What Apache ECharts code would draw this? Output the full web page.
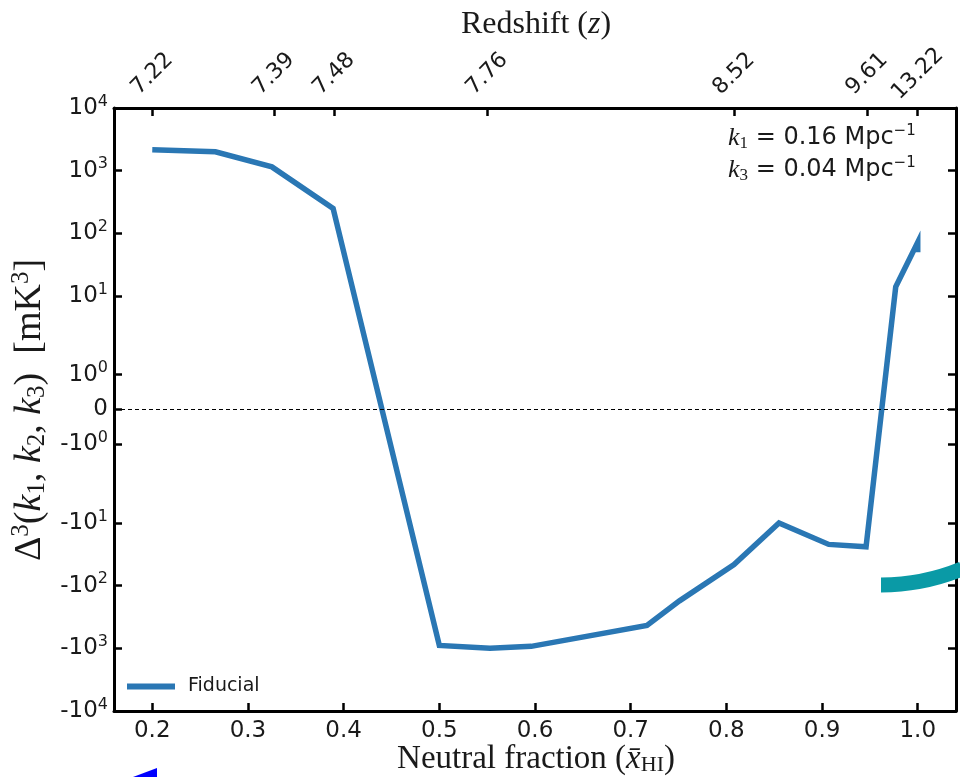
<!DOCTYPE html>
<html>
<head>
<meta charset="utf-8">
<script src="https://cdn.jsdelivr.net/npm/echarts@6/dist/echarts.min.js"></script>
<style>
  html, body { margin: 0; padding: 0; background: #fff; }
  #chart { width: 960px; height: 777px; }
</style>
</head>
<body>
<div id="chart"></div>
<script>
// values
const xHI = [0.2, 0.266, 0.325, 0.389, 0.5, 0.553, 0.596, 0.717, 0.751, 0.808, 0.855, 0.907, 0.946, 0.977, 1.0, 1.0];
const fiducial = [2150, 2000, 1150, 250, -900, -1000, -930, -430, -175, -46, -10, -22, -24, 14, 72, 50];

const xTicks = [0.2, 0.3, 0.4, 0.5, 0.6, 0.7, 0.8, 0.9, 1.0];
const zTicksX = [0.2, 0.327, 0.39, 0.55, 0.808, 0.947, 1.0];
const zLabels = ['7.22', '7.39', '7.48', '7.76', '8.52', '9.61', '13.22'];
const yTickValues = [1e4, 1e3, 100, 10, 1, 0, -1, -10, -100, -1000, -1e4];
const yTickLabels = ['10^4', '10^3', '10^2', '10^1', '10^0', '0', '-10^0', '-10^1', '-10^2', '-10^3', '-10^4'];

// symmetric log-like scale used by the figure (units = decades)
const LIN = 35 / 63;   // 0 .. 1
const MID = 79 / 63;   // 1 .. 10
function fwd(v) {
  const a = Math.abs(v), s = v < 0 ? -1 : 1;
  let t;
  if (a <= 1) t = a * LIN;
  else if (a <= 10) t = LIN + Math.log10(a) * MID;
  else t = LIN + MID + Math.log10(a) - 1;
  return s * t;
}
const yMax = fwd(1e4);
const yTickPos = yTickValues.map(fwd);

function nearest(arr, v) {
  let best = 0;
  arr.forEach((a, i) => { if (Math.abs(a - v) < Math.abs(arr[best] - v)) best = i; });
  return best;
}

const sans = 'DejaVu Sans';
const serif = 'Liberation Serif';
const ink = '#1a1a1a';

let myChart = echarts.init(document.getElementById('chart'));

// k annotation rich styles
let kRich = {
  i: { fontFamily: serif, fontStyle: 'italic', fontSize: 26, fill: ink },
  sub: { fontFamily: serif, fontSize: 17, fill: ink, padding: [11, 0, 0, 0] },
  t: { fontFamily: sans, fontSize: 24, fill: ink },
  sup: { fontFamily: sans, fontSize: 15, fill: ink, padding: [0, 0, 13, 0] }
};

let option = {
  animation: false,
  backgroundColor: '#fff',
  grid: { left: 114, right: 4, top: 108, bottom: 66 },
  legend: {
    left: 122, top: 672,
    icon: 'rect', itemWidth: 48, itemHeight: 6, itemGap: 10,
    textStyle: { fontFamily: sans, fontSize: 19, color: ink, padding: [0, 0, 0, 8] },
    data: ['Fiducial']
  },
  xAxis: [{
    type: 'value', position: 'bottom', min: 0.16, max: 1.04,
    splitLine: { show: false },
    axisLine: { onZero: false, lineStyle: { color: '#000', width: 3 } },
    axisTick: { inside: true, length: 8, customValues: xTicks, lineStyle: { color: '#000', width: 2.5 } },
    axisLabel: {
      customValues: xTicks, margin: 9, color: ink, fontFamily: sans, fontSize: 23,
      formatter: v => v.toFixed(1)
    }
  }, {
    type: 'value', position: 'top', min: 0.16, max: 1.04,
    splitLine: { show: false },
    axisLine: { onZero: false, lineStyle: { color: '#000', width: 3 } },
    axisTick: { inside: true, length: 8, customValues: zTicksX, lineStyle: { color: '#000', width: 2.5 } },
    axisLabel: {
      customValues: zTicksX, rotate: -45, margin: 34, align: 'center', verticalAlign: 'middle',
      color: ink, fontFamily: sans, fontSize: 22,
      formatter: v => zLabels[nearest(zTicksX, v)]
    }
  }],
  yAxis: [{
    type: 'value', position: 'left', min: -yMax, max: yMax,
    splitLine: { show: false },
    axisLine: { onZero: false, lineStyle: { color: '#000', width: 3 } },
    axisTick: { inside: true, length: 8, customValues: yTickPos, lineStyle: { color: '#000', width: 2.5 } },
    axisLabel: {
      customValues: yTickPos, margin: 6, color: ink,
      formatter: v => {
        const lab = yTickLabels[nearest(yTickPos, v)];
        const p = lab.split('^');
        return p.length > 1 ? '{b|' + p[0] + '}{s|' + p[1] + '}' : '{b|' + p[0] + '}';
      },
      rich: {
        b: { fontFamily: sans, fontSize: 23, color: ink },
        s: { fontFamily: sans, fontSize: 16, color: ink, padding: [0, 0, 13, 0] }
      }
    }
  }, {
    type: 'value', position: 'right', min: -yMax, max: yMax,
    splitLine: { show: false },
    axisLine: { onZero: false, lineStyle: { color: '#000', width: 3 } },
    axisTick: { inside: true, length: 8, customValues: yTickPos, lineStyle: { color: '#000', width: 2.5 } },
    axisLabel: { show: false }
  }],
  series: [{
    name: 'Fiducial',
    type: 'line',
    xAxisIndex: 0, yAxisIndex: 0,
    data: xHI.map((x, i) => [x, fwd(fiducial[i])]),
    showSymbol: false, symbol: 'none',
    lineStyle: { color: '#2a77b4', width: 5.5, join: 'miter' },
    itemStyle: { color: '#2a77b4' },
    markLine: {
      silent: true, symbol: 'none', label: { show: false },
      lineStyle: { color: '#000', type: [4, 3], width: 1 },
      data: [{ yAxis: 0 }]
    }
  }],
  graphic: [
    {
      type: 'text', left: 728, top: 124, z: 50,
      style: { text: '{i|k}{sub|1}{t| = 0.16 Mpc}{sup|−1}', rich: kRich }
    },
    {
      type: 'text', left: 728, top: 156, z: 50,
      style: { text: '{i|k}{sub|3}{t| = 0.04 Mpc}{sup|−1}', rich: kRich }
    },
    {
      type: 'text', x: 536, y: 25, z: 50,
      style: {
        text: '{t|Redshift (}{i|z}{t|)}', align: 'center', verticalAlign: 'middle',
        rich: {
          t: { fontFamily: serif, fontSize: 32, fill: ink },
          i: { fontFamily: serif, fontStyle: 'italic', fontSize: 32, fill: ink }
        }
      }
    },
    {
      type: 'text', x: 536, y: 759, z: 50,
      style: {
        text: '{t|Neutral fraction (}{i|x̄}{sub|HI}{t|)}', align: 'center', verticalAlign: 'middle',
        rich: {
          t: { fontFamily: serif, fontSize: 33, fill: ink },
          i: { fontFamily: serif, fontStyle: 'italic', fontSize: 33, fill: ink },
          sub: { fontFamily: serif, fontSize: 22, fill: ink, padding: [12, 0, 0, 0] }
        }
      }
    },
    {
      type: 'text', x: 30, y: 410, rotation: Math.PI / 2, z: 50,
      style: {
        text: '{t|Δ}{sup|3}{t|(}{i|k}{sub|1}{t|, }{i|k}{sub|2}{t|, }{i|k}{sub|3}{t|)  [mK}{sup|3}{t|]}',
        align: 'center', verticalAlign: 'middle',
        rich: {
          t: { fontFamily: serif, fontSize: 38, fill: ink },
          i: { fontFamily: serif, fontStyle: 'italic', fontSize: 38, fill: ink },
          sub: { fontFamily: serif, fontSize: 25, fill: ink, padding: [14, 0, 0, 0] },
          sup: { fontFamily: serif, fontSize: 25, fill: ink, padding: [0, 0, 18, 0] }
        }
      }
    },
    {
      type: 'bezierCurve', z: 60,
      shape: { x1: 881, y1: 585, cpx1: 915, cpy1: 585, cpx2: 940, cpy2: 578, x2: 962, y2: 569 },
      style: { stroke: '#0a9aa6', lineWidth: 15, fill: null, lineCap: 'butt' }
    },
    {
      type: 'polygon', z: 60,
      shape: { points: [[133, 777], [157, 768], [157, 777]] },
      style: { fill: '#0000ff' }
    }
  ]
};

myChart.setOption(option);
</script>
</body>
</html>
